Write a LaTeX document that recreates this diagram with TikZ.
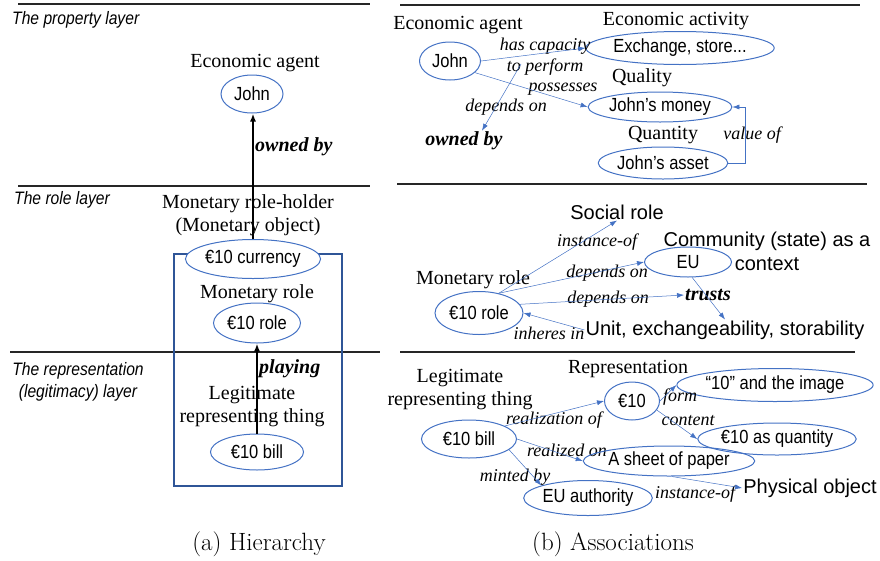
\documentclass[tikz,border=0pt]{standalone}
\usepackage{fontspec}
\usetikzlibrary{arrows.meta,shapes.geometric}
\newfontfamily\tnr{Liberation Serif}
\newfontfamily\arial{Liberation Sans}
\newfontfamily\arialn[FakeStretch=0.87]{Liberation Sans}
\definecolor{ellblue}{RGB}{68,114,196}
\definecolor{boxblue}{RGB}{47,85,151}

\begin{document}
\begin{tikzpicture}[x=1pt,y=-1pt,
  ell/.style={ellipse,draw=ellblue,line width=1pt,inner sep=0pt,
    font=\arialn\fontsize{19}{21}\selectfont},
  lbl/.style={font=\tnr\fontsize{20}{23}\selectfont,align=center,inner sep=1pt},
  rel/.style={font=\tnr\itshape\fontsize{18}{21}\selectfont,align=center,inner sep=1pt},
  boldrel/.style={font=\tnr\bfseries\itshape\fontsize{20}{22}\selectfont,inner sep=1pt},
  txt/.style={font=\arial\fontsize{20}{24}\selectfont,align=center,inner sep=1pt},
  layer/.style={font=\arialn\itshape\fontsize{18}{22}\selectfont,align=center,inner sep=1pt},
  subcap/.style={font=\fontsize{25}{28}\selectfont,inner sep=1pt},
  holds/.style={-{Latex[length=8pt,width=6pt]},line width=1.7pt},
  link/.style={-{Latex[length=7pt,width=5pt]},draw=ellblue,line width=0.5pt}]
  \useasboundingbox (0,0) rectangle (880,560);
  % layer separators
  \foreach \y/\a/\b in {4/18/370, 186/18/370, 352/10/380, 5/400/860, 184/397/867, 352/400/855}
    { \draw[line width=1.3pt,black!85] (\a,\y) -- (\b,\y); }

  % (a) hierarchy
  \node[layer,anchor=west] (lprop) at (11,20) {The property layer};
  \node[layer,anchor=west] (lrole) at (13,200) {The role layer};
  \node[layer] (lrep) at (78,382) {The representation\\(legitimacy) layer};
  \node[draw=boxblue,line width=1.2pt,minimum width=168,minimum height=232] (frame) at (258,370) {};
  \node[lbl] (agentA) at (255,63) {Economic agent};
  \node[ell,minimum width=62,minimum height=38] (johnA) at (252,94) {John};
  \node[lbl] (holderA) at (248,215) {Monetary role-holder\\(Monetary object)};
  \node[ell,fill=white,minimum width=125,minimum height=39] (currency) at (253,259) {€10 currency};
  \node[lbl] (mroleA) at (257,294) {Monetary role};
  \node[ell,minimum width=87,minimum height=40] (roleA) at (257,323) {€10 role};
  \node[lbl] (legitA) at (252,407) {Legitimate\\representing thing};
  \node[ell,minimum width=93,minimum height=36] (billA) at (257,452) {€10 bill};
  \node[boldrel,anchor=west] (ownedA) at (254,147) {owned by};
  \node[boldrel,anchor=west] (playing) at (258,369) {playing};
  \draw[holds] (currency.north) -- (currency.north |- johnA.south);
  \draw[holds] (billA.north) -- (roleA.south);
  \node[subcap] (capA) at (259,544) {(a) Hierarchy};

  % (b) associations, property layer
  \node[lbl] (agentB) at (458,25) {Economic agent};
  \node[ell,minimum width=61,minimum height=38] (johnB) at (450,61) {John};
  \node[lbl] (activity) at (676,21) {Economic activity};
  \node[ell,minimum width=143,minimum height=33] (exchange) at (680,48) {Exchange, store...};
  \node[rel] (capacity) at (545,57) {has capacity\\to perform};
  \node[lbl] (quality) at (642,78) {Quality};
  \node[ell,minimum width=115,minimum height=30] (money) at (660,107) {John’s money};
  \node[rel] (possesses) at (563,89) {possesses};
  \node[rel] (dependsA) at (506,107) {depends on};
  \node[boldrel] (ownedB) at (464,141) {owned by};
  \node[lbl] (quantity) at (663,135) {Quantity};
  \node[ell,minimum width=122,minimum height=32] (asset) at (663,163) {John’s asset};
  \node[rel] (valueof) at (752,135) {value of};
  \coordinate (capref) at (521,64);
  \draw[link] (johnB.east) -- (exchange.west);
  \draw[link] (johnB.-25) -- (money.west);
  \draw[link] (capref) -- ([xshift=18pt]ownedB.north);
  \draw[link] (asset.east) -- ++(17,0) |- (money.east);

  % (b) role layer
  \node[txt] (social) at (617,212) {Social role};
  \node[txt] (community) at (767,251) {Community (state) as a\\context};
  \node[ell,minimum width=87,minimum height=30] (eu) at (688,262) {EU};
  \node[lbl] (mroleB) at (473,280) {Monetary role};
  \node[ell,minimum width=88,minimum height=43] (roleB) at (479,313) {€10 role};
  \node[rel] (instof) at (597,242) {instance-of};
  \node[rel] (depB) at (607,273) {depends on};
  \node[boldrel] (trusts) at (708,295) {trusts};
  \node[rel] (depC) at (608,299) {depends on};
  \node[txt] (unit) at (725,330) {Unit, exchangeability, storability};
  \node[rel] (inheres) at (549,333) {inheres in};
  \draw[link] (roleB.45) -- (social.south);
  \draw[link] (roleB.45) -- (eu.west);
  \draw[link] (roleB.12) -- (trusts.west);
  \draw[link] (eu.-75) -- (unit.north);
  \draw[link] (unit.west) -- (roleB.east);

  % (b) representation layer
  \node[lbl] (legitB) at (460,390) {Legitimate\\representing thing};
  \node[lbl] (reprB) at (628,369) {Representation};
  \node[ell,minimum width=55,minimum height=38] (ten) at (632,401) {€10};
  \node[ell,minimum width=95,minimum height=38] (billB) at (469,439) {€10 bill};
  \node[rel] (realof) at (554,420) {realization of};
  \node[ell,minimum width=140,minimum height=33] (image) at (775,385) {“10” and the image};
  \node[ell,minimum width=130,minimum height=32] (quant) at (777,439) {€10 as quantity};
  \node[rel] (form) at (680,397) {form};
  \node[rel] (content) at (688,421) {content};
  \node[rel] (realon) at (567,450) {realized on};
  \node[ell,minimum width=128,minimum height=30] (sheet) at (669,461) {A sheet of paper};
  \node[rel] (minted) at (515,477) {minted by};
  \node[ell,minimum width=105,minimum height=35] (authority) at (588,498) {EU authority};
  \node[rel] (instofB) at (695,494) {instance-of};
  \node[txt] (physical) at (810,488) {Physical object};
  \draw[link] (billB.20) -- (ten.west);
  \draw[link] (ten.east) -- (image.west);
  \draw[link] (ten.-20) -- (quant.west);
  \draw[link] (billB.east) -- (sheet.west);
  \draw[link] (billB.-15) -- (authority.165);
  \draw[link] (sheet.-80) -- (physical.west);
  \node[subcap] (capB) at (613,544) {(b) Associations};
\end{tikzpicture}
\end{document}
